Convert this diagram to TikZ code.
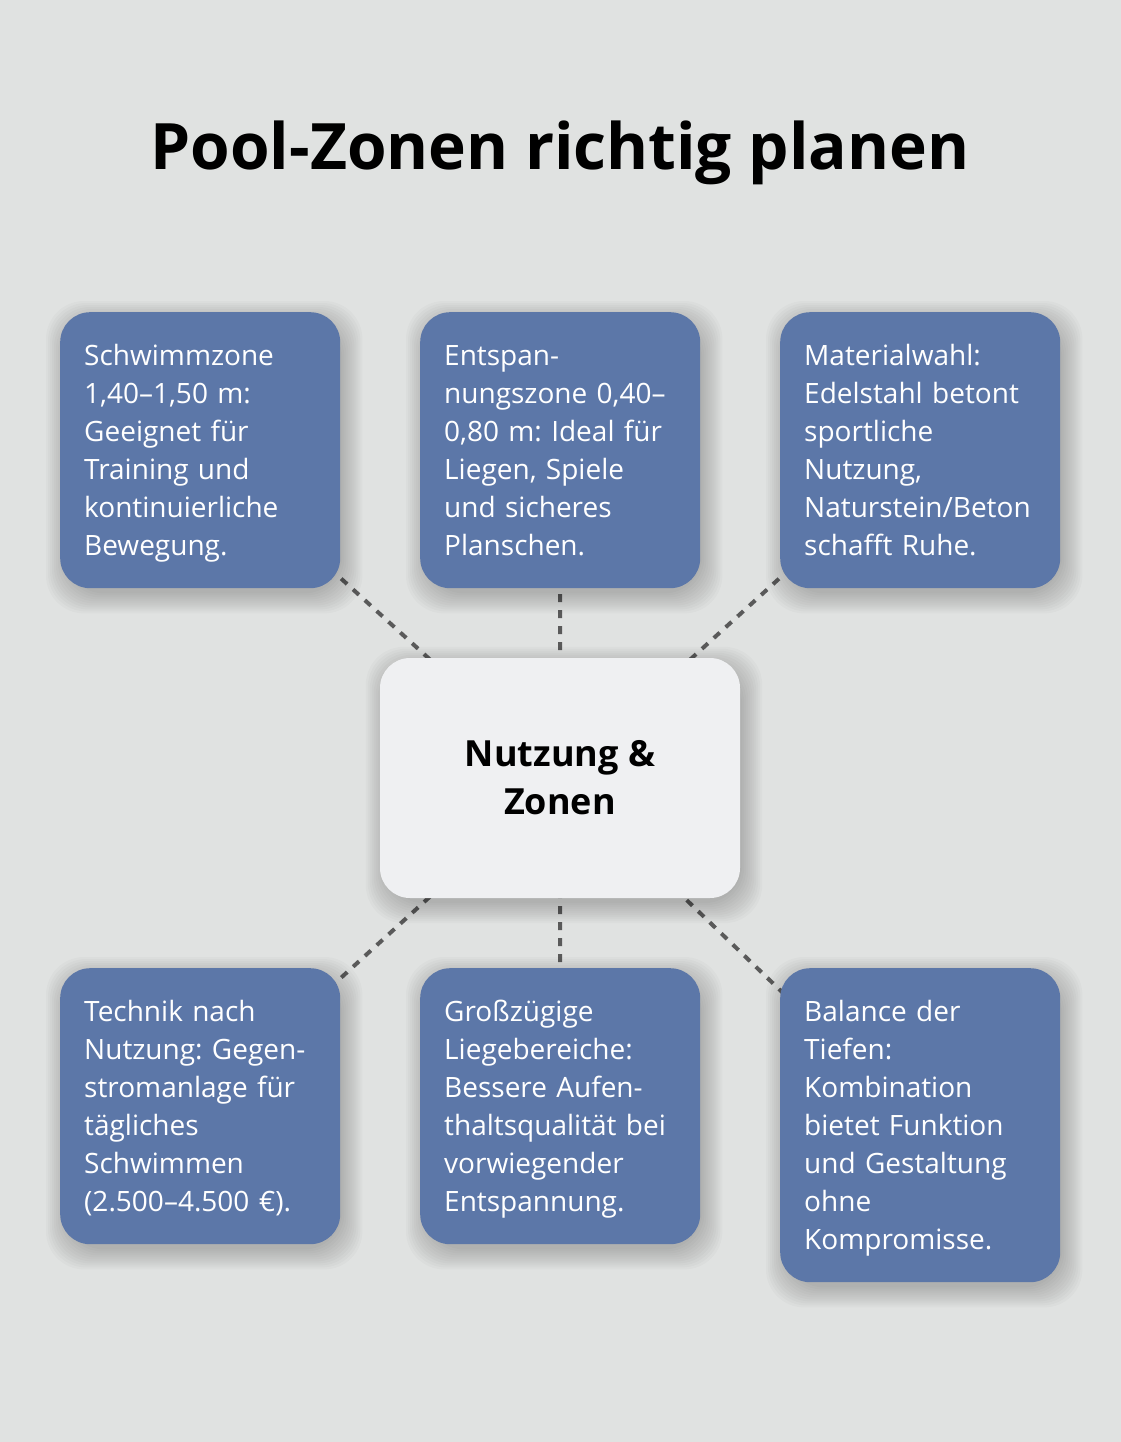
\documentclass[tikz,border=0pt]{standalone}
\usepackage{fontspec}
\setmainfont{Open Sans}
\usetikzlibrary{backgrounds}
\pgfdeclarelayer{shadow}
\pgfsetlayers{background,shadow,main}

\definecolor{bgcol}{HTML}{E0E2E1}
\definecolor{zoneblue}{HTML}{5C77A8}
\definecolor{hubfill}{HTML}{EFF0F2}
\definecolor{dashgray}{HTML}{5A5A5A}
\newcommand{\zstrut}{\rule[-9pt]{0pt}{38pt}}
\frenchspacing

\begin{document}
\begin{tikzpicture}[x=1pt, y=-1pt,
  zone/.style={rounded corners=30pt, fill=zoneblue, text=white, anchor=north west,
    text width=232pt, inner xsep=24pt, inner ysep=24pt, align=left,
    font=\fontsize{28}{38}\selectfont,
    execute at begin node=\zstrut, execute at end node=\zstrut},
  hub/.style={rounded corners=30pt, fill=hubfill, minimum width=360pt, minimum height=240pt,
    align=center, font=\fontsize{36}{48}\bfseries},
  link/.style={dashgray, line width=4pt, dash pattern=on 8pt off 8pt},
  softshade/.style={fill=black, opacity=0.02, rounded corners=38pt}]
  % Canvas
  \useasboundingbox (0,0) rectangle (1120,1442);
  \begin{scope}[on background layer]
    \fill[bgcol] (-10,-10) rectangle (1130,1452);
  \end{scope}
  % Title
  \node[font=\fontsize{64}{78}\bfseries, anchor=base] (title) at (560,170) {Pool-Zonen richtig planen};
  % Centre
  \node[hub] (hub) at (560,778) {Nutzung \&\\Zonen};
  % Top row
  \node[zone] (schwimm) at (60,312) {Schwimmzone\\1,40–1,50 m:\\Geeignet für\\Training und\\kontinuierliche\\Bewegung.};
  \node[zone] (entspannung) at (420,312) {Entspan-\\nungszone 0,40–\\0,80 m: Ideal für\\Liegen, Spiele\\und sicheres\\Planschen.};
  \node[zone] (material) at (780,312) {Materialwahl:\\Edelstahl betont\\sportliche\\Nutzung,\\Naturstein/Beton\\schafft Ruhe.};
  % Bottom row
  \node[zone] (technik) at (60,968) {Technik nach\\Nutzung: Gegen-\\stromanlage für\\tägliches\\Schwimmen\\(2.500–4.500 €).};
  \node[zone] (liege) at (420,968) {Großzügige\\Liegebereiche:\\Bessere Aufen-\\thaltsqualität bei\\vorwiegender\\Entspannung.};
  \node[zone] (balance) at (780,968) {Balance der\\Tiefen:\\Kombination\\bietet Funktion\\und Gestaltung\\ohne\\Kompromisse.};
  % Soft shadows
  \begin{pgfonlayer}{shadow}
    \foreach \z in {hub,schwimm,entspannung,material,technik,liege,balance}
      \foreach \k in {-2,0,...,18}
        \fill[softshade]
          ([xshift=4pt-\k pt, yshift=-7pt+\k pt]\z.north west)
          rectangle ([xshift=4pt+\k pt, yshift=-7pt-\k pt]\z.south east);
  \end{pgfonlayer}
  % Dashed links, behind the boxes
  \begin{scope}[on background layer]
    \foreach \z in {schwimm,entspannung,material,technik,liege,balance}
      \draw[link] (hub.center) -- (\z.center);
  \end{scope}
\end{tikzpicture}
\end{document}
